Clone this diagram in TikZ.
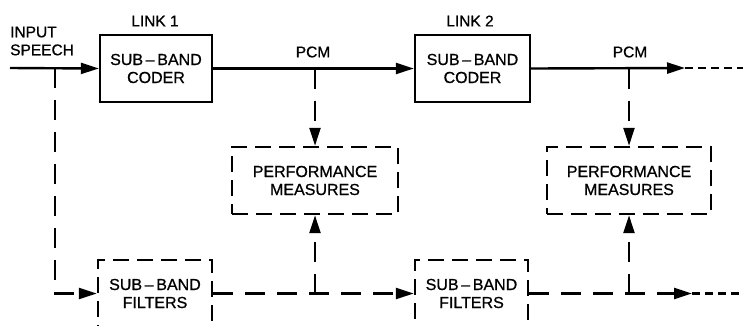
\documentclass[tikz,border=0pt]{standalone}
\usepackage{fontspec}
\setmainfont{Liberation Sans}
\newfontfamily\diagfont[Ligatures=TeX,FakeBold=0.8]{Liberation Sans}
\usetikzlibrary{arrows.meta}
\begin{document}
\begin{tikzpicture}[x=1pt,y=-1pt,line width=2.4pt,
  txt/.style={font=\diagfont\fontsize{16}{18}\selectfont,align=center,inner sep=0pt},
  lbl/.style={font=\diagfont\fontsize{15.5}{18}\selectfont,inner sep=0pt},
  solidbox/.style={draw,txt,minimum height=67pt},
  dashbox/.style={draw,txt,minimum height=67pt,dash pattern=on 16pt off 8pt},
  flow/.style={-{Triangle[length=18pt,width=11pt]}},
  dflow/.style={dash pattern=on 20pt off 12pt},
  tail/.style={dash pattern=on 8pt off 5pt}]
\useasboundingbox (0,0) rectangle (743,325);
\clip (0,0) rectangle (743,325);

% coders of the two links
\node[solidbox,minimum width=112pt] (coder1) at (156,68.5) {SUB\,–\,BAND\\CODER};
\node[solidbox,minimum width=115pt] (coder2) at (472.5,68.5) {SUB\,–\,BAND\\CODER};

% performance measurement blocks
\node[dashbox,minimum width=166pt] (perf1) at (315,180.5) {PERFORMANCE\\MEASURES};
\node[dashbox,minimum width=164pt] (perf2) at (629,180.5) {PERFORMANCE\\MEASURES};

% reference filter banks (bottom row)
\node[dashbox,minimum width=114pt] (filt1) at (155,293.5) {SUB\,–\,BAND\\FILTERS};
\node[dashbox,minimum width=113pt] (filt2) at (471.5,293.5) {SUB\,–\,BAND\\FILTERS};

% labels
\node[lbl] (link1) at (155,21) {LINK 1};
\node[lbl] (link2) at (470,21) {LINK 2};
\node[lbl] (pcm1) at (313,52) {PCM};
\node[lbl] (pcm2) at (630,52) {PCM};
\node[lbl,anchor=west,align=left] (insp) at (9,41) {INPUT\\SPEECH};

% signal path
\coordinate (in) at (10,68);
\coordinate (j1) at (55,68);
\coordinate (j2) at (perf1.north |- coder1.east);
\coordinate (j3) at (perf2.north |- coder2.east);
\coordinate (out1) at (685,68);
\coordinate (out2) at (743,68);
\coordinate (k2) at (perf1.south |- filt1.east);
\coordinate (k3) at (perf2.south |- filt2.east);
\coordinate (bout1) at (692,293.5);
\coordinate (bout2) at (743,293.5);

\draw[flow] (in) -- (coder1.west);
\draw[flow] (coder1.east) -- (coder2.west);
\draw[flow] (coder2.east) -- (out1);
\draw[tail] (out1) -- (out2);

% taps to the measurement and filter blocks
\draw[dflow,flow] (j1) |- (filt1.west);
\draw[dflow,flow] (j2) -- (perf1.north);
\draw[dflow,flow] (j3) -- (perf2.north);
\draw[dflow,flow] (filt1.east) -- (filt2.west);
\draw[dflow,flow] (k2) -- (perf1.south);
\draw[dflow,flow] (filt2.east) -- (bout1);
\draw[tail] (bout1) -- (bout2);
\draw[dflow,flow] (k3) -- (perf2.south);
\end{tikzpicture}
\end{document}
